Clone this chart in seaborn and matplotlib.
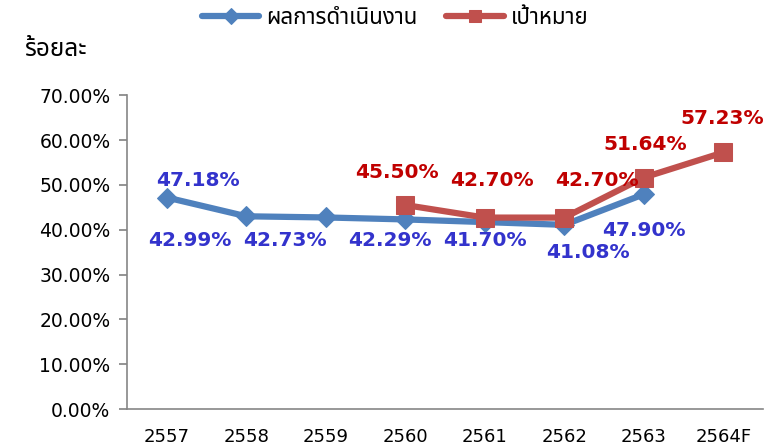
import numpy as np
import pandas as pd
import seaborn as sns
import matplotlib
matplotlib.use('Agg')
import matplotlib.pyplot as plt
from matplotlib import font_manager
from matplotlib.ft2font import FT2Font

# ข้อมูล
years = ['2557', '2558', '2559', '2560', '2561', '2562', '2563', '2564F']
actual = [47.18, 42.99, 42.73, 42.29, 41.70, 41.08, 47.90, np.nan]
target = [np.nan, np.nan, np.nan, 45.50, 42.70, 42.70, 51.64, 57.23]
actual_name = 'ผลการดำเนินงาน'
target_name = 'เป้าหมาย'
y_title = 'ร้อยละ'
y_ticks = [0, 10, 20, 30, 40, 50, 60, 70]

# ตำแหน่งป้ายข้อมูล (pixel offset จากจุด)
actual_offsets = [(31, 17), (-56, -24), (-41, -23), (-15, -21), (0, -18), (24, -28), (0, -36)]
target_offsets = [(-8, 33), (7, 37), (33, 37), (1, 33), (-1, 34)]


def find_thai_font():
    preferred = ['Noto Sans Thai', 'Tahoma', 'Loma', 'Garuda', 'Norasi', 'Sarabun']
    found = []
    for f in font_manager.fontManager.ttflist:
        try:
            cmap = FT2Font(f.fname).get_charmap()
        except Exception:
            continue
        if 0x0E01 in cmap:
            found.append(f.name)
    for p in preferred:
        if p in found:
            return p
    return found[0] if found else None


sns.set_theme(style='white')
thai = find_thai_font()
families = ['DejaVu Sans'] + ([thai] if thai else [])
thai_families = ([thai] if thai else []) + ['DejaVu Sans']
plt.rcParams['font.family'] = families

blue = '#4F81BD'
red = '#C0504D'
blue_txt = '#3333CC'
red_txt = '#C00000'

pos = np.arange(len(years))
df = pd.DataFrame({'pos': pos, 'actual': actual, 'target': target})

fig = plt.figure(figsize=(7.7, 4.47), dpi=100)
ax = fig.add_axes([0.165, 0.085, 0.826, 0.702])

sns.lineplot(data=df, x='pos', y='actual', ax=ax, color=blue, linewidth=4.5,
             marker='D', markersize=10, markeredgecolor=blue, label=actual_name)
sns.lineplot(data=df, x='pos', y='target', ax=ax, color=red, linewidth=4.5,
             marker='s', markersize=13, markeredgecolor=red, label=target_name)

# ป้ายข้อมูล
i = 0
for x, v in zip(pos, actual):
    if np.isnan(v):
        continue
    dx, dy = actual_offsets[i]
    ax.annotate(f'{v:.2f}%', (x, v), xytext=(dx * 0.72, dy * 0.72), textcoords='offset points',
                ha='center', va='center', color=blue_txt, fontsize=14.5, fontweight='bold',
                family='DejaVu Sans')
    i += 1
i = 0
for x, v in zip(pos, target):
    if np.isnan(v):
        continue
    dx, dy = target_offsets[i]
    ax.annotate(f'{v:.2f}%', (x, v), xytext=(dx * 0.72, dy * 0.72), textcoords='offset points',
                ha='center', va='center', color=red_txt, fontsize=14.5, fontweight='bold',
                family='DejaVu Sans')
    i += 1

ax.set_xlim(-0.5, len(years) - 0.5)
ax.set_ylim(0, 70)
ax.set_yticks(y_ticks)
ax.set_yticklabels([f'{t:.2f}%' for t in y_ticks], fontsize=13.5, color='#000000')
ax.set_xticks(pos)
ax.set_xticklabels(years, fontsize=13, color='#000000')
ax.set_xticks(np.arange(len(years) + 1) - 0.5, minor=True)
ax.tick_params(axis='x', which='major', length=0, pad=14)
ax.tick_params(axis='x', which='minor', length=6, color='#868686', direction='out')
ax.tick_params(axis='y', which='major', length=6, color='#868686', direction='out', left=True, pad=6)
ax.set_xlabel('')
ax.set_ylabel('')
for s in ['top', 'right']:
    ax.spines[s].set_visible(False)
for s in ['left', 'bottom']:
    ax.spines[s].set_color('#868686')
    ax.spines[s].set_linewidth(1.2)

fig.text(0.072, 0.888, y_title, ha='center', va='center', fontsize=17.5,
         fontweight='bold', family=thai_families, color='#000000')

leg = ax.legend(loc='center', bbox_to_anchor=(0.513, 0.958), bbox_transform=fig.transFigure,
                ncol=2, frameon=False, handlelength=2.6, handletextpad=0.3, columnspacing=1.3,
                prop={'family': thai_families, 'size': 16})
for t in leg.get_texts():
    t.set_color('#000000')
for h in leg.legend_handles:
    h.set_markersize(8)

fig.savefig('out.png', dpi=100)
